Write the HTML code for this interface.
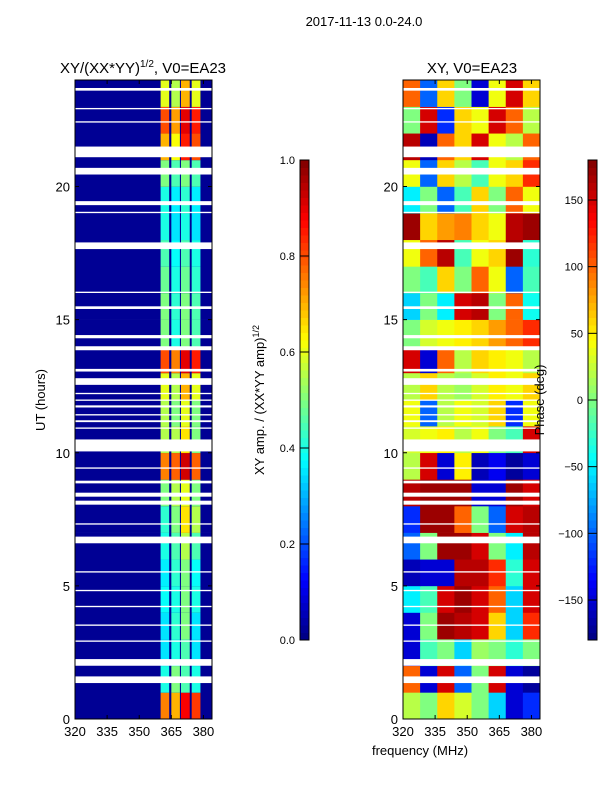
<!DOCTYPE html>
<html><head><meta charset="utf-8">
<style>
body{margin:0;background:#fff;}
svg{display:block;font-family:"Liberation Sans",sans-serif;}
</style></head>
<body>
<svg id="fig" width="600" height="800" viewBox="0 0 600 800">
<text x="364" y="26" font-size="13" text-anchor="middle">2017-11-13 0.0-24.0</text>
<text x="143" y="73" font-size="15" text-anchor="middle">XY/(XX*YY)<tspan font-size="10" dy="-6">1/2</tspan><tspan dy="6">, V0=EA23</tspan></text>
<text x="472" y="73" font-size="15" text-anchor="middle">XY, V0=EA23</text>
<g id="left"></g>
<g id="right"></g>
<g id="cb1"></g>
<g id="cb2"></g>
<g id="axes"></g>
<text transform="translate(45,400) rotate(-90)" font-size="13" text-anchor="middle">UT (hours)</text>
<text transform="translate(264,400) rotate(-90)" font-size="13" text-anchor="middle">XY amp. / (XX*YY amp)<tspan font-size="9" dy="-5">1/2</tspan></text>
<text transform="translate(544,400) rotate(-90)" font-size="13" text-anchor="middle">Phase (deg)</text>
<text x="420" y="755" font-size="13" text-anchor="middle">frequency (MHz)</text>
</svg>
<script>
const xTicks=[320,335,350,365,380];
const yTicks=[0,5,10,15,20];
const cb1Ticks=[0.0,0.2,0.4,0.6,0.8,1.0];
const cb2Ticks=[-150,-100,-50,0,50,100,150];
const bandLo=[360,365,369.5,374.5];
const bandHi=[364,369,373.6,378.6];
const leftAmp=[[0.75,0.7,0.88,0.82],[0.4,0.5,0.45,0.4],[0.35,0.4,0.45,0.35],[0.35,0.42,0.5,0.35],[0.38,0.4,0.5,0.4],[0.36,0.42,0.5,0.38],[0.4,0.45,0.55,0.45],[0.42,0.5,0.65,0.55],[0.5,0.55,0.6,0.5],[0.75,0.78,0.92,0.78],[0.55,0.55,0.65,0.5],[0.55,0.5,0.6,0.5],[0.6,0.55,0.7,0.6],[0.8,0.75,0.9,0.85],[0.5,0.4,0.5,0.45],[0.5,0.42,0.5,0.45],[0.48,0.4,0.48,0.42],[0.45,0.38,0.45,0.4],[0.4,0.35,0.4,0.35],[0.4,0.36,0.42,0.36],[0.5,0.45,0.5,0.45],[0.7,0.62,0.85,0.8],[0.8,0.72,0.9,0.85],[0.6,0.55,0.7,0.6]];
const phase=[[20,0,60,30,0,-60,-150,-120],[100,-150,150,-100,0,150,-150,-170],[-150,-20,0,-60,10,0,-30,0],[-150,0,170,160,150,60,-60,120],[-50,-20,150,170,150,100,-60,150],[-160,-150,-150,160,160,120,-30,150],[-100,0,170,170,150,0,-50,160],[-120,170,170,100,0,-100,150,160],[160,170,170,170,-150,-150,170,150],[20,150,-150,50,-160,-140,-170,-150],[30,40,50,20,40,0,-20,150],[40,-100,20,40,30,60,-120,40],[20,60,20,10,30,50,40,60],[150,-150,100,20,60,50,40,20],[0,30,40,50,60,80,100,120],[-60,0,-50,150,160,0,100,-40],[0,-20,60,0,100,40,-100,-20],[40,100,160,-20,40,60,170,-30],[170,60,80,90,60,40,160,170],[-50,0,-100,-20,60,0,100,40],[40,-100,60,20,-20,40,60,120],[160,-160,100,60,150,40,20,100],[0,150,-120,60,40,150,100,20],[100,-100,60,0,-150,40,150,60]];
const gapStart=[23.6,21.1,20.45,19.3,17.65,15.4,14.3,13.85,13.05,12.55,12.2,11.95,11.7,11.4,11.15,10.9,10.05,8.85,8.35,8.05,6.6,2.0,1.35,5.5,4.8,4.2,3.5,2.9,7.3,9.4,22.4,22.9,19.0,16.0];
const gapEnd=[23.7,21.5,20.7,19.45,17.9,15.5,14.42,14.0,13.15,12.8,12.25,12.0,11.78,11.45,11.22,10.95,10.5,8.95,8.5,8.2,6.85,2.25,1.6,5.55,4.85,4.25,3.55,2.95,7.35,9.45,22.45,22.95,19.05,16.05];
const NS='http://www.w3.org/2000/svg';
const FMIN=320,FMAX=384,TMIN=0,TMAX=24,TOP=80,BOT=719;
const yS=t=>BOT-(t-TMIN)/(TMAX-TMIN)*(BOT-TOP);
function xS(f,x0){return x0+(f-FMIN)/(FMAX-FMIN)*137;}
function jet(v){v=Math.max(0,Math.min(1,v));const r=Math.min(4*v-1.5,-4*v+4.5),g=Math.min(4*v-0.5,-4*v+3.5),b=Math.min(4*v+0.5,-4*v+2.5);const c=x=>Math.round(255*Math.max(0,Math.min(1,x)));return `rgb(${c(r)},${c(g)},${c(b)})`;}
function mk(tag,at,p){const e=document.createElementNS(NS,tag);for(const k in at)e.setAttribute(k,at[k]);p.appendChild(e);return e;}
const L=document.getElementById('left'),R=document.getElementById('right');
for(let h=0;h<24;h++){
  const y1=yS(h+1),y0=yS(h);
  let r=mk('rect',{x:75,y:y1,width:137,height:y0-y1+0.3,fill:jet(0.02)},L);
  
  
  for(let b=0;b<4;b++){
    const xa=xS(bandLo[b],75),xb=xS(bandHi[b],75);
    let c=mk('rect',{x:xa,y:y1,width:xb-xa,height:y0-y1+0.3,fill:jet(leftAmp[h][b])},L);
    
    
  }
}
for(let h=0;h<24;h++){
  const y1=yS(h+1),y0=yS(h);
  for(let s=0;s<8;s++){
    const xa=xS(FMIN+s*8,403),xb=xS(FMIN+(s+1)*8,403);
    let c=mk('rect',{x:xa,y:y1,width:xb-xa+0.5,height:y0-y1+0.3,fill:jet((phase[h][s]+180)/360)},R);
    
    
  }
}
for(let i=0;i<gapStart.length;i++){
  for(const x0 of [75,403]){
    let g=mk('rect',{x:x0,y:yS(gapEnd[i]),width:137,height:yS(gapStart[i])-yS(gapEnd[i]),fill:'#fff'},x0===75?L:R);
    
    
  }
}
const A=document.getElementById('axes');
for(const x0 of [75,403]){
  let f=mk('rect',{x:x0,y:TOP,width:137,height:BOT-TOP,fill:'none',stroke:'#000','stroke-width':1},A);
  
  
  for(const t of xTicks){const x=xS(t,x0);
    mk('line',{x1:x,x2:x,y1:BOT,y2:BOT-4,stroke:'#000'},A);mk('line',{x1:x,x2:x,y1:TOP,y2:TOP+4,stroke:'#000'},A);
    let tx=mk('text',{x:x,y:BOT+17,'font-size':13,'text-anchor':'middle'},A);tx.textContent=t;
    
    }
  for(const t of yTicks){const y=yS(t);
    mk('line',{x1:x0,x2:x0+4,y1:y,y2:y,stroke:'#000'},A);mk('line',{x1:x0+137,x2:x0+133,y1:y,y2:y,stroke:'#000'},A);
    let tx=mk('text',{x:x0-5,y:y+5,'font-size':13,'text-anchor':'end'},A);tx.textContent=t;
    
    }
}
function cbar(g,x0,ticks,vmin,vmax,dec){
  const n=64;for(let i=0;i<n;i++){const y=640-(i+1)*480/n;
    mk('rect',{x:x0,y:y,width:9,height:480/n+0.5,fill:jet((i+0.5)/n)},g);}
  mk('rect',{x:x0,y:160,width:9,height:480,fill:'none',stroke:'#000'},g);
  for(const t of ticks){const y=640-(t-vmin)/(vmax-vmin)*480;
    mk('line',{x1:x0,x2:x0+9,y1:y,y2:y,stroke:'#000'},g);
    let tx=mk('text',{x:x0-5,y:y+4,'font-size':11,'text-anchor':'end'},g);
    tx.textContent=dec?t.toFixed(1):(t<0?'\u2212'+(-t):t);
    
    }
}
cbar(document.getElementById('cb1'),300,cb1Ticks,0,1,true);
cbar(document.getElementById('cb2'),588,cb2Ticks,-180,180,false);
</script>
</body></html>
